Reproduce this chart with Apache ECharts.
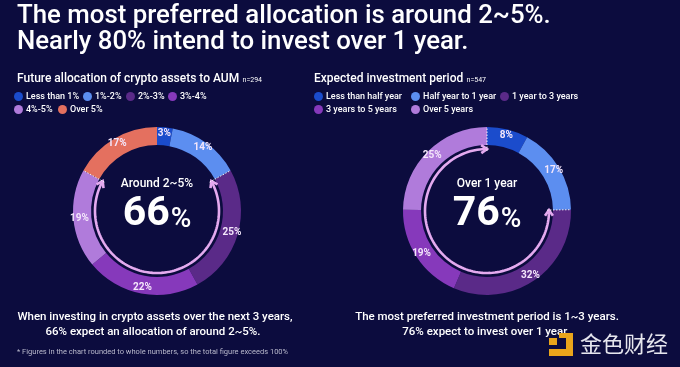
<!DOCTYPE html>
<html>
<head>
<meta charset="utf-8">
<script src="https://cdn.jsdelivr.net/npm/echarts@6/dist/echarts.min.js"></script>
<style>
html,body{margin:0;padding:0;background:#0c0c3e;}
#c{width:680px;height:367px;}
</style>
</head>
<body>
<div id="c"></div>
<script>
// ---- data ----
const allocCategories = ['Less than 1%', '1%-2%', '2%-3%', '3%-4%', '4%-5%', 'Over 5%'];
const allocValues = [3, 14, 25, 22, 19, 17];
const periodCategories = ['Less than half year', 'Half year to 1 year', '1 year to 3 years', '3 years to 5 years', 'Over 5 years'];
const periodValues = [8, 17, 32, 19, 25];
// highlighted ranges (index of first / last category inside arrow)
const allocRange = [2, 4];   // 2%-3% .. 4%-5%  -> 66%
const periodRange = [2, 4];  // 1 year .. over 5 years -> 76%

const allocColors = ['#1b4ccc', '#5c8ef0', '#5a2a88', '#8639bb', '#b07bdb', '#e4705f'];
const periodColors = ['#1b4ccc', '#5c8ef0', '#5a2a88', '#8639bb', '#b07bdb'];

// legend item positions (layout)
const allocLegendPos = [[14, 92], [83, 92], [126, 92], [168, 92], [14, 105], [58, 105]];
const periodLegendPos = [[314, 92], [411, 92], [500, 92], [314, 105], [411, 105]];

const FONT = 'Roboto, "Noto Sans", sans-serif';
const sum = a => a.reduce((s, v) => s + v, 0);
function rangeOf(vals, r) {
  const start = sum(vals.slice(0, r[0]));
  const end = sum(vals.slice(0, r[1] + 1));
  return [start, end];
}

const chart = echarts.init(document.getElementById('c'), null, {renderer: 'canvas'});

const RO = 84, RI = 66, RA = 62;
const centers = [[157, 211], [487, 211]];

function pieSeries(names, vals, colors, idx) {
  return {
    type: 'pie',
    center: centers[idx],
    radius: [RI, RO],
    startAngle: 90,
    clockwise: true,
    silent: true,
    avoidLabelOverlap: false,
    data: names.map((n, i) => ({name: n, value: vals[i], itemStyle: {color: colors[i]}})),
    label: {
      show: true, position: 'inside', formatter: '{c}%',
      color: '#f4e6fb', fontSize: 10, fontWeight: 'bold', fontFamily: FONT
    },
    labelLine: {show: false},
    itemStyle: {borderWidth: 0}
  };
}

function arrowSeries(range, idx) {
  return {
    type: 'custom',
    coordinateSystem: 'polar',
    polarIndex: idx,
    silent: true,
    data: [range],
    z: 5,
    renderItem: function (params, api) {
      const s = api.value(0), e = api.value(1);
      const pts = [];
      const N = 120;
      for (let i = 0; i <= N; i++) {
        const t = s + (e - s) * i / N;
        pts.push(api.coord([RA, t]));
      }
      function head(tipV, backV) {
        const tip = api.coord([RA, tipV]);
        const b = api.coord([RA, backV]);
        let dx = tip[0] - b[0], dy = tip[1] - b[1];
        const L = Math.hypot(dx, dy); dx /= L; dy /= L;
        const len = 7, ang = 0.6;
        const c = Math.cos(ang), sn = Math.sin(ang);
        const p1 = [tip[0] - len * (dx * c - dy * sn), tip[1] - len * (dy * c + dx * sn)];
        const p2 = [tip[0] - len * (dx * c + dy * sn), tip[1] - len * (dy * c - dx * sn)];
        return {type: 'polyline', shape: {points: [p1, tip, p2]},
          style: {stroke: '#e4aaef', lineWidth: 2.6, fill: null, lineJoin: 'miter'}};
      }
      function dotted(v) {
        const a = api.coord([RA - 2, v]), b = api.coord([RO, v]);
        return {type: 'line', shape: {x1: a[0], y1: a[1], x2: b[0], y2: b[1]},
          style: {stroke: '#ffffff', lineWidth: 1, lineDash: [1.5, 1.5], opacity: 0.9}};
      }
      const span = (e - s) * 0.01;
      return {type: 'group', children: [
        {type: 'polyline', shape: {points: pts},
          style: {stroke: '#e4aaef', lineWidth: 2.6, fill: null}},
        head(s, s + span), head(e, e - span),
        dotted(s), dotted(e)
      ]};
    }
  };
}

const aR = rangeOf(allocValues, allocRange);
const pR = rangeOf(periodValues, periodRange);
const allocPct = aR[1] - aR[0];
const periodPct = pR[1] - pR[0];

const legendBase = {
  orient: 'horizontal', icon: 'circle', itemWidth: 9, itemHeight: 9,
  padding: 0, selectedMode: false,
  textStyle: {color: '#ffffff', fontSize: 9, fontWeight: 500, fontFamily: FONT, padding: [0, 0, 0, -2]}
};
const legends = [];
allocCategories.forEach((n, i) => legends.push(Object.assign({}, legendBase, {data: [n], left: allocLegendPos[i][0], top: allocLegendPos[i][1]})));
periodCategories.forEach((n, i) => legends.push(Object.assign({}, legendBase, {data: [n], left: periodLegendPos[i][0], top: periodLegendPos[i][1]})));

const option = {
  backgroundColor: '#0c0c3e',
  animation: false,
  polar: [{center: centers[0], radius: RO}, {center: centers[1], radius: RO}],
  angleAxis: [
    {polarIndex: 0, min: 0, max: sum(allocValues), startAngle: 90, clockwise: true, show: false},
    {polarIndex: 1, min: 0, max: sum(periodValues), startAngle: 90, clockwise: true, show: false}
  ],
  radiusAxis: [
    {polarIndex: 0, min: 0, max: RO, show: false},
    {polarIndex: 1, min: 0, max: RO, show: false}
  ],
  legend: legends,
  series: [
    pieSeries(allocCategories, allocValues, allocColors, 0),
    pieSeries(periodCategories, periodValues, periodColors, 1),
    arrowSeries(aR, 0),
    arrowSeries(pR, 1)
  ],
  graphic: [
    {type: 'text', left: 17, top: 4, style: {text: 'The most preferred allocation is around 2~5%.', fill: '#fff', fontSize: 25.8, fontWeight: 500, fontFamily: FONT}},
    {type: 'text', left: 17, top: 30, style: {text: 'Nearly 80% intend to invest over 1 year.', fill: '#fff', fontSize: 25.8, fontWeight: 500, fontFamily: FONT}},
    {type: 'text', left: 17, top: 73, style: {
      text: '{a|Future allocation of crypto assets to AUM} {n|n=294}',
      rich: {a: {fill: '#fff', fontSize: 12, fontWeight: 500, fontFamily: FONT, verticalAlign: 'bottom'},
             n: {fill: '#fff', fontSize: 7, fontFamily: FONT, verticalAlign: 'bottom', padding: [0, 0, 1, 0]}}}},
    {type: 'text', left: 314, top: 73, style: {
      text: '{a|Expected investment period} {n|n=547}',
      rich: {a: {fill: '#fff', fontSize: 12, fontWeight: 500, fontFamily: FONT, verticalAlign: 'bottom'},
             n: {fill: '#fff', fontSize: 7, fontFamily: FONT, verticalAlign: 'bottom', padding: [0, 0, 1, 0]}}}},
    // centre texts
    {type: 'text', x: 157, y: 184, style: {text: 'Around 2~5%', fill: '#fff', fontSize: 12, fontWeight: 500, fontFamily: FONT, align: 'center', verticalAlign: 'middle'}},
    {type: 'text', x: 157, y: 215, style: {
      text: '{a|' + allocPct + '}{b|%}', align: 'center', verticalAlign: 'middle',
      rich: {a: {fill: '#fff', fontSize: 41, fontWeight: 'bold', fontFamily: FONT, verticalAlign: 'bottom'},
             b: {fill: '#fff', fontSize: 28, fontWeight: 500, fontFamily: FONT, verticalAlign: 'bottom', padding: [0, 0, 2, 1]}}}},
    {type: 'text', x: 487, y: 184, style: {text: 'Over 1 year', fill: '#fff', fontSize: 12, fontWeight: 500, fontFamily: FONT, align: 'center', verticalAlign: 'middle'}},
    {type: 'text', x: 487, y: 215, style: {
      text: '{a|' + periodPct + '}{b|%}', align: 'center', verticalAlign: 'middle',
      rich: {a: {fill: '#fff', fontSize: 41, fontWeight: 'bold', fontFamily: FONT, verticalAlign: 'bottom'},
             b: {fill: '#fff', fontSize: 28, fontWeight: 500, fontFamily: FONT, verticalAlign: 'bottom', padding: [0, 0, 2, 1]}}}},
    // bottom texts
    {type: 'text', x: 155, y: 317, style: {text: 'When investing in crypto assets over the next 3 years,', fill: '#fff', fontSize: 11.5, fontWeight: 500, fontFamily: FONT, align: 'center', verticalAlign: 'middle'}},
    {type: 'text', x: 153, y: 332, style: {text: '66% expect an allocation of around 2~5%.', fill: '#fff', fontSize: 11.5, fontWeight: 500, fontFamily: FONT, align: 'center', verticalAlign: 'middle'}},
    {type: 'text', x: 17, y: 352, style: {text: '* Figures in the chart rounded to whole numbers, so the total figure exceeds 100%', fill: '#b9b9cc', fontSize: 7.5, fontFamily: FONT, verticalAlign: 'middle'}},
    {type: 'text', x: 487, y: 317, style: {text: 'The most preferred investment period is 1~3 years.', fill: '#fff', fontSize: 11.5, fontWeight: 500, fontFamily: FONT, align: 'center', verticalAlign: 'middle'}},
    {type: 'text', x: 486, y: 332, style: {text: '76% expect to invest over 1 year.', fill: '#fff', fontSize: 11.5, fontWeight: 500, fontFamily: FONT, align: 'center', verticalAlign: 'middle'}},
    // watermark
    {type: 'rect', shape: {x: 549, y: 338, width: 8, height: 7}, style: {fill: '#eaa51b'}},
    {type: 'rect', shape: {x: 566, y: 333, width: 7, height: 23}, style: {fill: '#eaa51b'}},
    {type: 'rect', shape: {x: 549, y: 349, width: 24, height: 7}, style: {fill: '#eaa51b'}},
    {type: 'rect', shape: {x: 559, y: 333, width: 7, height: 5}, style: {fill: '#eaa51b'}},
    {type: 'text', x: 580, y: 344, style: {text: '金色财经', fill: '#e6e6ee', fontSize: 22, fontFamily: '"Noto Sans CJK SC", sans-serif', verticalAlign: 'middle'}}
  ]
};
chart.setOption(option);
</script>
</body>
</html>
